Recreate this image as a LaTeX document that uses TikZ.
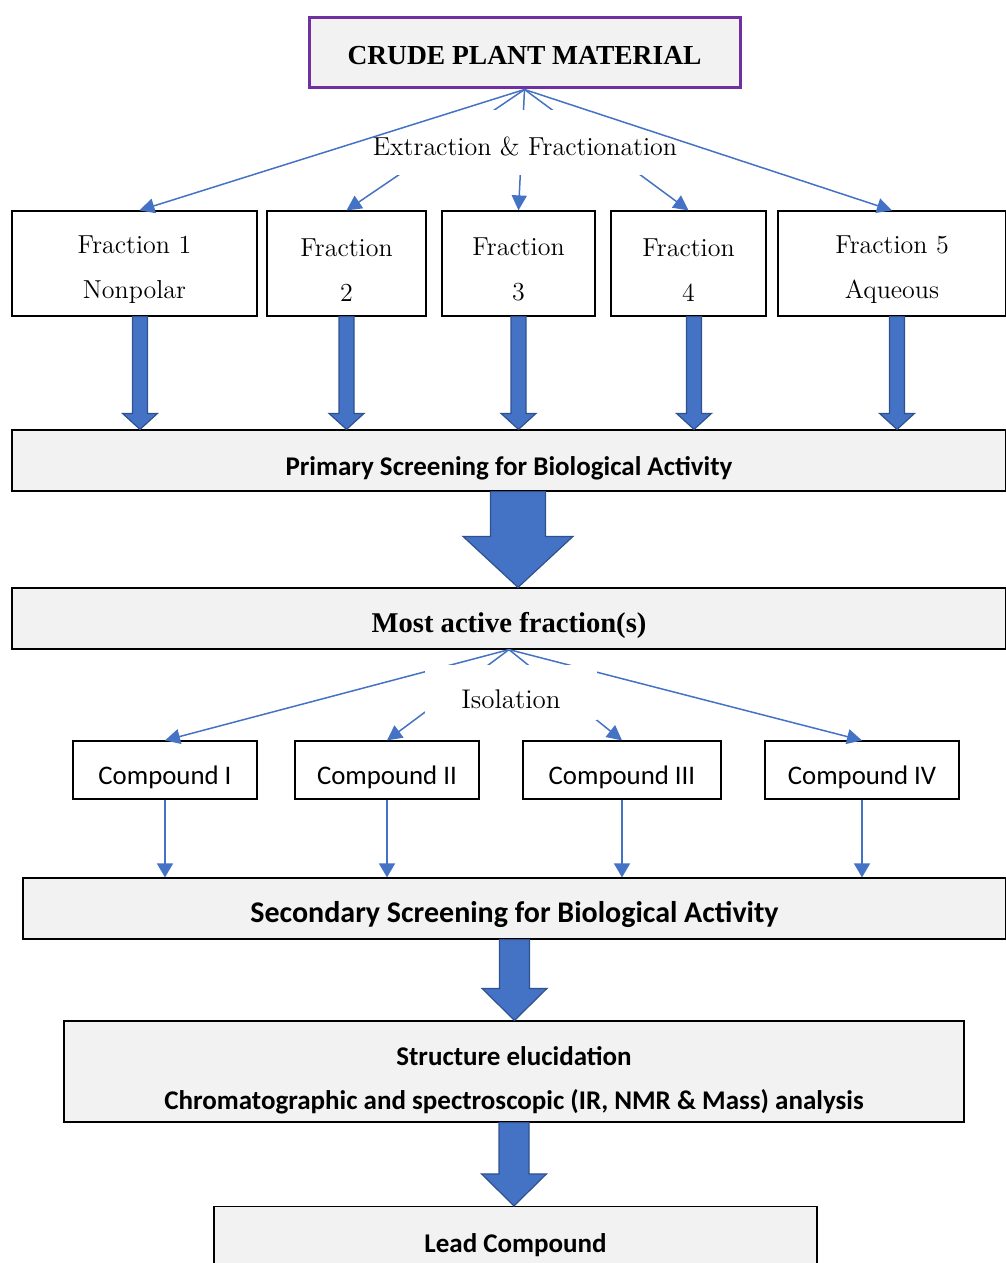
\documentclass[tikz,border=0pt]{standalone}
\usepackage{fontspec}
\newfontfamily\carlito{Carlito}
\newfontfamily\timesfont{Liberation Serif}
\usetikzlibrary{arrows.meta,calc}
\definecolor{boxblue}{HTML}{4472C4}
\definecolor{edgeblue}{HTML}{2F528F}
\definecolor{boxpurple}{HTML}{7030A0}
\definecolor{boxgrey}{HTML}{F2F2F2}

% block arrow: from, to (only its y), shaft half width, head half width, head length
\newcommand{\blockarrow}[5]{%
  \draw[fat] let \p1=(#1), \p2=(#2) in
    (\x1-#3,\y1) -- (\x1-#3,\y2+#5) -- (\x1-#4,\y2+#5) -- (\x1,\y2)
    -- (\x1+#4,\y2+#5) -- (\x1+#3,\y2+#5) -- (\x1+#3,\y1) -- cycle;}
% extra room above the first line of a box
\newcommand{\topgap}[1]{\rule{0pt}{#1}}

\begin{document}
\begin{tikzpicture}[x=0.5pt, y=-0.5pt,
        crude/.style={draw=boxpurple, fill=boxgrey, line width=1.5pt, inner sep=0pt,
            minimum width=215.5pt, minimum height=35pt, font=\timesfont\bfseries\fontsize{13.75}{16}\selectfont,
            execute at begin node={\rule{0pt}{12pt}}},
        frac/.style={draw, line width=0.6pt, inner sep=0pt, minimum height=52.5pt,
            align=center, font=\fontsize{13}{22.5}\selectfont},
        stage/.style={draw, fill=boxgrey, line width=0.6pt, inner sep=0pt, minimum height=30.5pt,
            align=center, font=\carlito\bfseries\fontsize{13.5}{22}\selectfont,
            execute at begin node={\rule{0pt}{17pt}}},
        comp/.style={draw, line width=0.6pt, inner sep=0pt, minimum height=29pt,
            font=\carlito\fontsize{13.4}{16}\selectfont,
            execute at begin node={\rule{0pt}{16.5pt}}},
        mask/.style={fill=white, inner sep=0pt, font=\fontsize{13}{15}\selectfont},
        link/.style={boxblue, line width=0.75pt, -{Triangle[length=7.5pt,width=7.5pt]}},
        drop/.style={boxblue, line width=0.75pt, -{Triangle[length=7pt,width=8pt]}},
        fat/.style={fill=boxblue, draw=edgeblue, line width=0.6pt, line join=miter}
    ]
        \useasboundingbox (0,0) rectangle (1006,1263);

        % Starting material
        \node[crude] (crude) at (524.5,53) {CRUDE PLANT MATERIAL};

        % Fractions
        \node[frac, minimum width=122.5pt] (f1) at (134.5,263.5) {\topgap{15pt}Fraction 1\\Nonpolar};
        \node[frac, minimum width=79.5pt] (f2) at (346.5,263.5) {\topgap{15pt}Fraction\\2};
        \node[frac, minimum width=76.5pt] (f3) at (518.5,263.5) {\topgap{15pt}Fraction\\3};
        \node[frac, minimum width=77.5pt] (f4) at (688.5,263.5) {\topgap{15pt}Fraction\\4};
        \node[frac, minimum width=114pt] (f5) at (892,263.5) {\topgap{15pt}Fraction 5\\Aqueous};

        % Screening stages
        \node[stage, minimum width=497pt] (prim) at (509,460.5) {Primary Screening for Biological Activity};
        \node[stage, minimum width=497pt, font=\timesfont\bfseries\fontsize{14.3}{16}\selectfont] (most) at (509,618.5) {Most active fraction(s)};

        % Compounds
        \node[comp, minimum width=92pt] (c1) at (165,770) {Compound I};
        \node[comp, minimum width=92pt] (c2) at (387,770) {Compound II};
        \node[comp, minimum width=99pt] (c3) at (622,770) {Compound III};
        \node[comp, minimum width=97pt] (c4) at (862,770) {Compound IV};

        \node[stage, minimum width=491.5pt, font=\carlito\bfseries\fontsize{15}{18}\selectfont] (sec) at (514.5,908.5) {Secondary Screening for Biological Activity};
        \node[stage, minimum width=450pt, minimum height=50.5pt] (elu) at (514,1071.5) {\topgap{18pt}Structure elucidation\\Chromatographic and spectroscopic (IR, NMR \& Mass) analysis};
        \node[stage, minimum width=301.5pt, minimum height=31pt] (lead) at (515.5,1237.5) {Lead Compound};

        % Extraction fan
        \draw[link] (crude.south) -- (f2.north);
        \draw[link] (crude.south) -- (f3.north);
        \draw[link] (crude.south) -- (f4.north);
        \node[mask, minimum height=32.5pt, execute at begin node={\rule{0pt}{13pt}}] (extr) at (525,142.5) {Extraction \& Fractionation};
        \draw[link] (crude.south) -- ([xshift=2.5pt]f1.north);
        \draw[link] (crude.south) -- (f5.north);

        \blockarrow{[xshift=2.75pt]f1.south}{prim.north}{3.75pt}{8.75pt}{8pt}
        \blockarrow{f2.south}{prim.north}{3.75pt}{8.75pt}{8pt}
        \blockarrow{f3.south}{prim.north}{3.75pt}{8.75pt}{8pt}
        \blockarrow{[xshift=2.75pt]f4.south}{prim.north}{3.75pt}{8.75pt}{8pt}
        \blockarrow{[xshift=2.5pt]f5.south}{prim.north}{3.75pt}{8.75pt}{8pt}

        \blockarrow{[xshift=4.5pt]prim.south}{most.north}{13.75pt}{27.5pt}{25.5pt}

        % Isolation fan
        \draw[link] (most.south) -- (c1.north);
        \draw[link] (most.south) -- (c2.north);
        \draw[link] (most.south) -- (c3.north);
        \draw[link] (most.south) -- (c4.north);
        \node[mask, minimum width=86pt, minimum height=27.5pt, font=\fontsize{13.5}{15}\selectfont,
            execute at begin node={\rule{0pt}{16pt}}] (isol) at (511,692.5) {Isolation};

        \draw[drop] (c1.south) -- (c1.south |- sec.north);
        \draw[drop] (c2.south) -- (c2.south |- sec.north);
        \draw[drop] (c3.south) -- (c3.south |- sec.north);
        \draw[drop] (c4.south) -- (c4.south |- sec.north);

        \blockarrow{sec.south}{elu.north}{7.5pt}{16.25pt}{16pt}
        \blockarrow{elu.south}{lead.north}{7.5pt}{16.25pt}{16pt}
    \end{tikzpicture}
\end{document}
